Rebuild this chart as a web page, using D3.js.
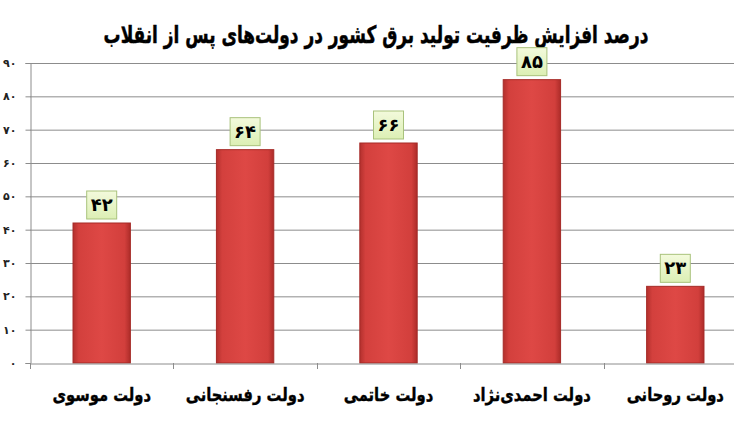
<!DOCTYPE html>
<html><head><meta charset="utf-8">
<script src="https://cdn.jsdelivr.net/npm/d3@7"></script>
<style>
html,body{margin:0;padding:0;background:#fff;}
svg{display:block;}
</style></head>
<body>
<svg id="chart" width="734" height="427"></svg>
<script>
const title = "درصد افزایش ظرفیت تولید برق کشور در دولت‌های پس از انقلاب";
const categories = ["دولت موسوی", "دولت رفسنجانی", "دولت خاتمی", "دولت احمدی‌نژاد", "دولت روحانی"];
const values = [42, 64, 66, 85, 23];
const yTicks = [0, 10, 20, 30, 40, 50, 60, 70, 80, 90];

const faDigits = "۰۱۲۳۴۵۶۷۸۹";
const toFa = n => String(n).replace(/\d/g, d => faDigits[+d]);

const svg = d3.select("#chart");
const W = 734, H = 427;
const plotL = 30, plotR = 747, plotT = 63, plotB = 363;

const x = d3.scaleBand().domain(categories).range([plotL, plotR]).paddingInner(0.6).paddingOuter(0.3);
const y = d3.scaleLinear().domain([0, 90]).range([plotB, plotT]);

const defs = svg.append("defs");
const g1 = defs.append("linearGradient").attr("id", "barGrad").attr("x1", "0").attr("x2", "1").attr("y1", "0").attr("y2", "0");
g1.append("stop").attr("offset", "0").attr("stop-color", "#b3302d");
g1.append("stop").attr("offset", "0.1").attr("stop-color", "#d3403d");
g1.append("stop").attr("offset", "0.5").attr("stop-color", "#de4845");
g1.append("stop").attr("offset", "0.9").attr("stop-color", "#d23f3c");
g1.append("stop").attr("offset", "1").attr("stop-color", "#ad2c29");
const g2 = defs.append("linearGradient").attr("id", "lblGrad").attr("x1", "0").attr("x2", "0").attr("y1", "0").attr("y2", "1");
g2.append("stop").attr("offset", "0").attr("stop-color", "#f3fadc");
g2.append("stop").attr("offset", "1").attr("stop-color", "#dcefb4");

// horizontally condensed text helper (the reference uses a narrow bold face)
function condensed(sel, targetW) {
  sel.each(function() {
    const el = d3.select(this);
    const len = this.getComputedTextLength();
    const k = targetW ? targetW / len : 0.82;
    const cx = +el.attr("x"), cy = +el.attr("y");
    el.attr("x", 0).attr("y", 0)
      .attr("transform", `translate(${cx},${cy}) scale(${k},1)`);
  });
}

// title
svg.append("text")
  .attr("x", 376).attr("y", 43)
  .attr("text-anchor", "middle")
  .attr("direction", "rtl")
  .attr("font-family", "DejaVu Sans")
  .attr("font-weight", "bold")
  .attr("font-size", 24)
  .attr("fill", "#000")
  .attr("stroke", "#000").attr("stroke-width", 0.5)
  .text(title)
  .call(condensed, 545);

// gridlines
svg.append("g").selectAll("line").data(yTicks.filter(t => t > 0)).join("line")
  .attr("x1", plotL).attr("x2", W)
  .attr("y1", d => y(d) + 0.5).attr("y2", d => y(d) + 0.5)
  .attr("stroke", "#8c8c8c").attr("stroke-width", 1);

// y axis
const yAxis = svg.append("g").attr("transform", `translate(${plotL + 0.5},0)`)
  .call(d3.axisLeft(y).tickValues(yTicks).tickFormat(toFa).tickSize(5).tickPadding(9));
yAxis.select(".domain").attr("stroke", "#8c8c8c");
yAxis.selectAll(".tick line").attr("stroke", "#8c8c8c");
yAxis.selectAll(".tick text").attr("font-family", "DejaVu Sans").attr("font-weight", "bold").attr("font-size", 11).attr("fill", "#222");

// bars
svg.append("g").selectAll("rect").data(values).join("rect")
  .attr("x", (d, i) => x(categories[i]))
  .attr("y", d => y(d))
  .attr("width", x.bandwidth())
  .attr("height", d => y(0) - y(d))
  .attr("fill", "url(#barGrad)")
  .attr("stroke", "#a52a27")
  .attr("stroke-width", 1);

// x axis
const xAxis = svg.append("g").attr("transform", `translate(0,${plotB + 0.5})`)
  .call(d3.axisBottom(x).tickSize(0).tickFormat(""));
xAxis.select(".domain").attr("stroke", "#8c8c8c");
svg.append("g").selectAll("line").data(categories).join("line")
  .attr("x1", d => Math.round(x(d) - x.step() * x.paddingInner() / 2) + 0.5)
  .attr("x2", d => Math.round(x(d) - x.step() * x.paddingInner() / 2) + 0.5)
  .attr("y1", plotB).attr("y2", plotB + 6)
  .attr("stroke", "#8c8c8c");

// category labels
svg.append("g").selectAll("text").data(categories).join("text")
  .attr("x", d => x(d) + x.bandwidth() / 2)
  .attr("y", 401)
  .attr("text-anchor", "middle")
  .attr("direction", "rtl")
  .attr("font-family", "DejaVu Sans")
  .attr("font-weight", "bold")
  .attr("font-size", 18)
  .attr("fill", "#000")
  .attr("stroke", "#000").attr("stroke-width", 0.4)
  .text(d => d)
  .call(condensed, null);

// value labels
const lbl = svg.append("g").selectAll("g").data(values).join("g")
  .attr("transform", (d, i) => `translate(${x(categories[i]) + x.bandwidth() / 2},${y(d) - 4})`);
lbl.append("rect")
  .attr("x", -15).attr("y", -28).attr("width", 30).attr("height", 28)
  .attr("fill", "url(#lblGrad)")
  .attr("stroke", "#a9c27c").attr("stroke-width", 1);
lbl.append("text")
  .attr("x", 0).attr("y", -8)
  .attr("text-anchor", "middle")
  .attr("font-family", "DejaVu Sans")
  .attr("font-weight", "bold")
  .attr("font-size", 18)
  .attr("fill", "#000")
  .text(d => toFa(d));
</script>
</body></html>
